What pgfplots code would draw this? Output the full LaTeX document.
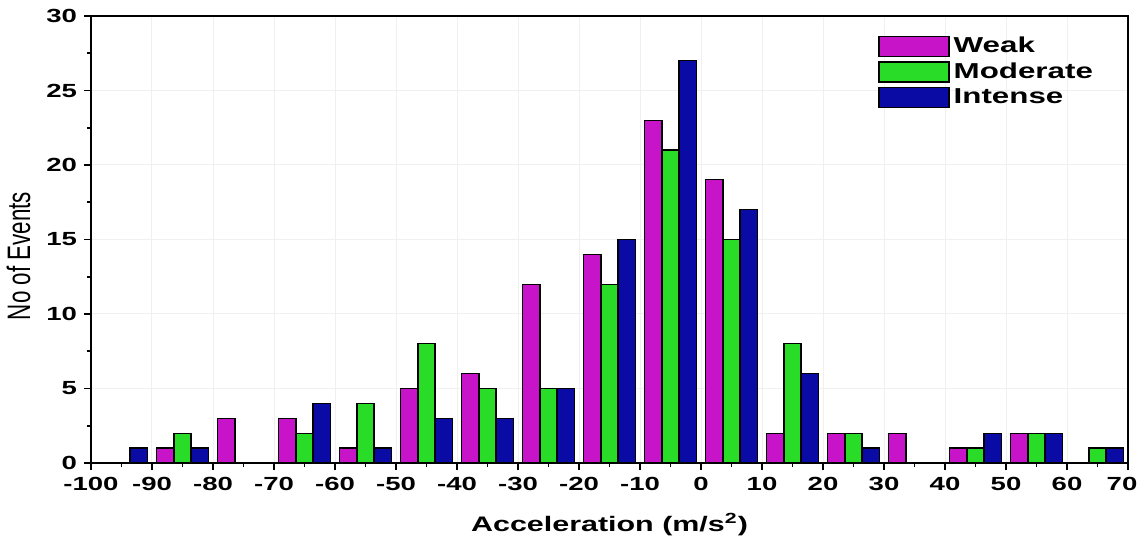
\documentclass[border=0pt]{standalone}
\usepackage{fontspec}
\setmainfont{Liberation Sans}[FakeStretch=1.45]
\newfontfamily\ylabfont{Liberation Sans}
\usepackage{graphicx}
\usepackage{pgfplots}
\pgfplotsset{compat=1.18}
\definecolor{weak}{RGB}{200,20,200}
\definecolor{moderate}{RGB}{40,220,40}
\definecolor{intense}{RGB}{10,10,165}
\begin{document}
\begin{tikzpicture}
\useasboundingbox (-45.5pt,-38pt) rectangle (523.5pt,231.5pt);
\begin{axis}[
  at={(0pt,0pt)}, anchor=south west,
  scale only axis, width=518.5pt, height=223.5pt,
  xmin=-100, xmax=70, ymin=0, ymax=30,
  xtick={-100,-90,...,70}, ytick={0,5,...,30},
  xticklabels={-100,-90,-80,-70,-60,-50,-40,-30,-20,-10,0,10,20,30,40,50,60,\hspace*{-6pt}70},
  minor x tick num=1, minor y tick num=1,
  tick align=outside, major tick length=3.5pt, minor tick length=2pt,
  tick pos=left,
  grid=major, major grid style={gray!12, line width=0.5pt},
  axis line style={line width=0.8pt},
  every tick/.style={black, line width=0.8pt},
  /pgf/number format/assume math mode=true,
  ticklabel style={font=\bfseries\fontsize{9.5}{10}\selectfont},
  xlabel={Acceleration (m/s\textsuperscript{2})},
  xlabel style={font=\bfseries\fontsize{10.5}{12}\selectfont, yshift=-4.5pt},
  ylabel={\scalebox{1}[1.45]{\ylabfont\fontsize{11.2}{12}\selectfont No of Events}},
  ylabel style={at={(ticklabel cs:0.463,1pt)}},
  legend image code/.code={\draw[#1] (0pt,-5pt) rectangle (35pt,5pt);},
  legend style={draw=none, fill=none, at={(0.759,0.963)}, anchor=north west,
    inner sep=0pt, row sep=-0.5pt, font=\bfseries\fontsize{10.8}{12}\selectfont},
  legend cell align=left,
]
\addplot[ybar, bar width=2.8, bar shift=0pt, fill=weak, draw=black, line width=0.6pt]
 coordinates {(-87.8,1) (-77.8,3) (-67.8,3) (-57.8,1) (-47.8,5) (-37.8,6) (-27.8,12) (-17.8,14) (-7.8,23) (2.2,19) (12.2,2) (22.2,2) (32.2,2) (42.2,1) (52.2,2)};
\addlegendentry{Weak}
\addplot[ybar, bar width=2.8, bar shift=0pt, fill=moderate, draw=black, line width=0.6pt]
 coordinates {(-85,2) (-65,2) (-55,4) (-45,8) (-35,5) (-25,5) (-15,12) (-5,21) (5,15) (15,8) (25,2) (45,1) (55,2) (65,1)};
\addlegendentry{Moderate}
\addplot[ybar, bar width=2.8, bar shift=0pt, fill=intense, draw=black, line width=0.6pt]
 coordinates {(-92.2,1) (-82.2,1) (-62.2,4) (-52.2,1) (-42.2,3) (-32.2,3) (-22.2,5) (-12.2,15) (-2.2,27) (7.8,17) (17.8,6) (27.8,1) (47.8,2) (57.8,2) (67.8,1)};
\addlegendentry{Intense}
\end{axis}
\end{tikzpicture}
\end{document}
